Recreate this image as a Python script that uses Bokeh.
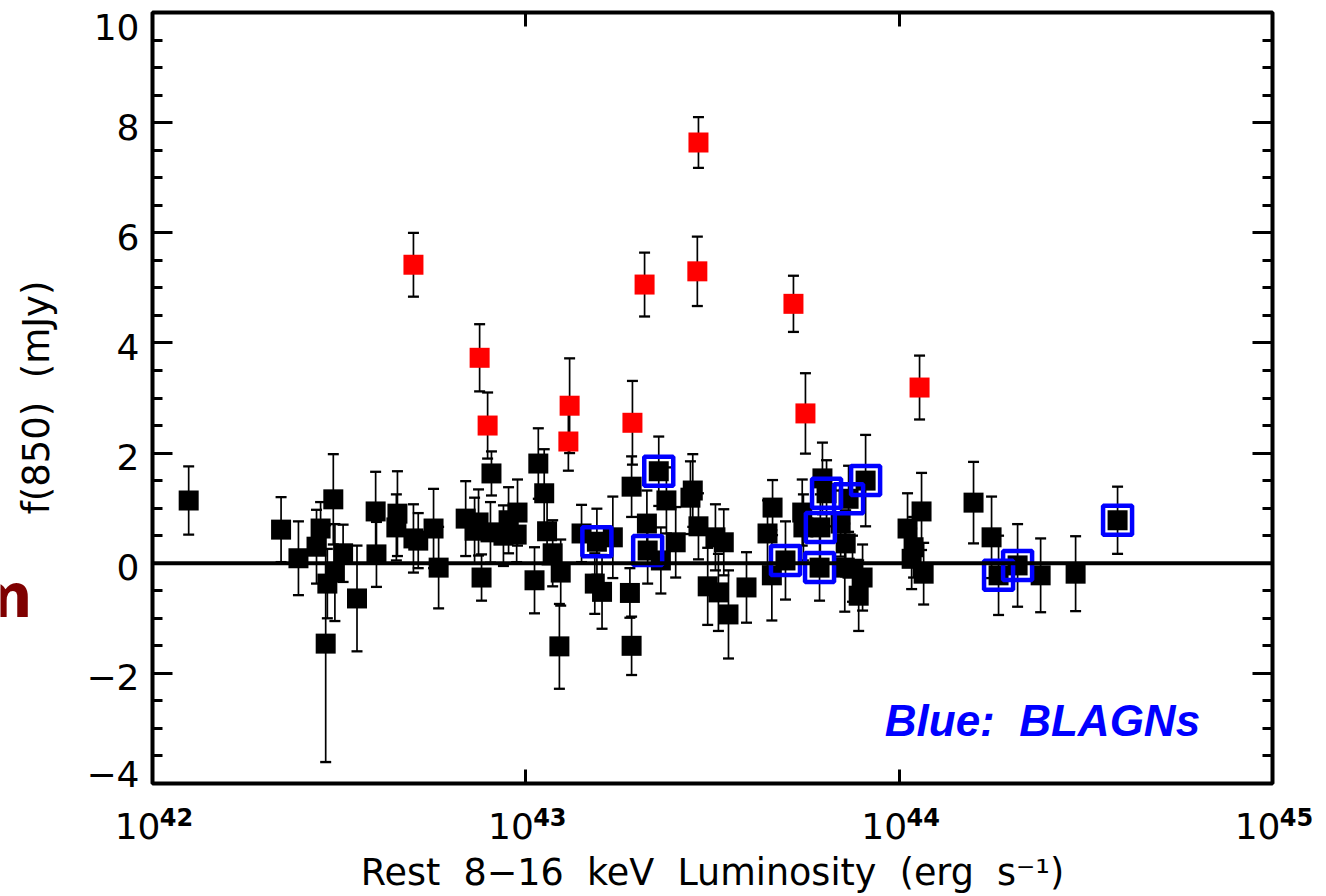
import math
from bokeh.plotting import figure
from bokeh.layouts import row
from bokeh.models import (FixedTicker, SingleIntervalTicker, LinearAxis, LogAxis,
                          Span, Label, ColumnDataSource, Range1d)
from bokeh.embed import file_html
from bokeh.resources import INLINE

# ---------------- data ----------------
# Rest 8-16 keV luminosity (erg/s), f(850) (mJy), 1-sigma error (mJy)
black_lum = [1.25e42, 2.21e42, 2.46e42, 2.75e42, 2.82e42, 2.94e42, 3.05e42, 3.08e42,
             2.91e42, 3.24e42, 3.53e42, 3.96e42, 3.98e42, 4.53e42, 4.50e42, 5.00e42,
             5.15e42, 5.66e42, 5.84e42, 6.90e42, 7.29e42, 7.47e42, 7.61e42, 8.09e42,
             8.04e42, 8.71e42, 8.99e42, 9.50e42, 9.45e42, 1.055e43, 1.08e43, 1.12e43,
             1.14e43, 1.18e43, 1.24e43, 1.23e43, 1.41e43, 1.55e43, 1.53e43, 1.60e43,
             1.71e43, 1.92e43, 1.90e43, 1.92e43, 2.11e43, 2.12e43, 2.27e43, 2.38e43,
             2.30e43, 2.52e43, 2.76e43, 2.80e43, 2.90e43, 3.07e43, 3.22e43, 3.28e43,
             3.39e43, 3.49e43, 3.90e43, 4.44e43, 4.58e43, 4.56e43, 4.96e43, 5.50e43,
             5.54e43, 6.23e43, 6.39e43, 6.15e43, 6.12e43, 7.32e43, 8.13e43, 6.97e43,
             7.19e43, 7.50e43, 7.98e43, 7.79e43, 7.15e43, 1.053e44, 1.148e44, 1.08e44,
             1.093e44, 1.163e44, 1.582e44, 1.768e44, 1.846e44, 2.076e44, 2.393e44,
             2.969e44, 3.846e44]
black_flux = [1.14, 0.61, 0.09, 0.30, 0.63, -0.37, 1.16, -0.17,
              -1.46, 0.18, -0.64, 0.94, 0.16, 0.90, 0.65, 0.45,
              0.41, 0.63, -0.08, 0.81, 0.59, 0.74, -0.26, 1.63,
              0.56, 0.50, 0.78, 0.92, 0.52, -0.31, 1.81, 1.27,
              0.58, 0.18, -0.17, -1.51, 0.54, 0.39, -0.37, -0.52,
              0.47, 1.39, -0.54, -1.50, 0.72, 0.23, 1.67, 1.14,
              0.05, 0.38, 1.19, 1.32, 0.67, -0.42, 0.47, -0.53,
              0.38, -0.93, -0.44, 0.54, 1.01, -0.22, 0.05, 0.92,
              0.65, 1.54, 1.27, 0.65, -0.08, 1.17, 1.50, 0.72,
              0.36, -0.10, -0.26, -0.59, -0.08, 0.63, 0.94, 0.08,
              0.29, -0.19, 1.10, 0.47, -0.22, -0.04, -0.22,
              -0.19, 0.78]
black_err = [0.62, 0.59, 0.67, 0.67, 0.48, 0.63, 0.82, 0.88,
             2.15, 0.52, 0.96, 0.72, 0.59, 0.77, 0.60, 0.62,
             0.50, 0.72, 0.74, 0.68, 0.60, 0.60, 0.42, 0.40,
             0.55, 0.55, 0.60, 0.60, 0.50, 0.60, 0.64, 0.80,
             0.60, 0.60, 0.60, 0.77, 0.52, 0.60, 0.55, 0.67,
             0.74, 0.55, 0.45, 0.53, 0.60, 0.60, 0.63, 0.60,
             0.60, 0.64, 0.66, 0.66, 0.60, 0.70, 0.60, 0.70,
             0.60, 0.80, 0.64, 0.60, 0.50, 0.82, 0.71, 0.60,
             0.60, 0.65, 0.60, 0.60, 0.60, 0.60, 0.83, 0.60,
             0.60, 0.60, 0.60, 0.64, 0.80, 0.64, 0.70, 0.55,
             0.55, 0.56, 0.74, 0.74, 0.72, 0.75, 0.67,
             0.68, 0.61]

red_lum = [5.00e42, 7.52e42, 7.90e42, 1.31e43, 1.30e43, 1.93e43, 2.08e43,
           2.90e43, 2.88e43, 5.21e43, 5.61e43, 1.134e44]
red_flux = [5.42, 3.73, 2.50, 2.86, 2.21, 2.55, 5.06, 7.64, 5.30, 4.71, 2.72, 3.19]
red_err = [0.58, 0.61, 0.60, 0.86, 0.53, 0.76, 0.58, 0.46, 0.63, 0.51, 0.73, 0.58]

# broad-line AGN (open blue squares)
blagn_lum = [1.55e43, 2.12e43, 2.27e43, 4.96e43, 6.12e43, 6.15e43, 6.39e43,
             7.32e43, 8.13e43, 1.846e44, 2.076e44, 3.846e44]
blagn_flux = [0.39, 0.23, 1.67, 0.05, -0.08, 0.65, 1.27, 1.17, 1.50, -0.22, -0.04, 0.78]

x_ticks = [1e42, 1e43, 1e44, 1e45]
x_tick_exponents = ["42", "43", "44", "45"]
y_ticks = [-4, -2, 0, 2, 4, 6, 8, 10]
y_tick_labels = ["\u22124", "\u22122", "0", "2", "4", "6", "8", "10"]

x_title = "Rest \u00a08\u221216 \u00a0keV \u00a0Luminosity \u00a0(erg \u00a0s\u207b\u00b9)"
y_title = "f(850) \u00a0(mJy)"
note = "Blue: \u00a0BLAGNs"
edge_fragment = "m"   # cut-off text of a neighbouring panel at the left edge

FONT = "DejaVu Sans"
TOP, BOTTOM = 12, 113          # border sizes shared by both figures
SIDE_W = 80                    # left strip holding the y title

# ---------------- main figure ----------------
p = figure(width=1326 - SIDE_W, height=896, x_axis_type="log",
           x_range=(0.99999e42, 1.00001e45), y_range=(-4, 10),
           output_backend="svg", toolbar_location=None,
           min_border_left=152 - SIDE_W, min_border_right=54,
           min_border_top=TOP, min_border_bottom=BOTTOM)
p.xgrid.visible = False
p.ygrid.visible = False
p.outline_line_color = "black"
p.outline_line_width = 4
p.background_fill_color = "white"
p.border_fill_color = "white"


def ticks_only(ax, major_in, minor_in):
    ax.axis_line_color = None
    ax.major_tick_in = major_in
    ax.major_tick_out = 0
    ax.minor_tick_in = minor_in
    ax.minor_tick_out = 0
    ax.major_tick_line_width = 3
    ax.minor_tick_line_width = 3
    ax.major_tick_line_color = "black"
    ax.minor_tick_line_color = "black"
    ax.major_label_text_font_size = "0px"
    ax.major_label_text_color = None
    ax.major_label_standoff = 0
    ax.axis_label = None


def labels_only(ax, size, standoff, style="normal"):
    ax.axis_line_color = None
    ax.major_tick_in = 0
    ax.major_tick_out = 0
    ax.minor_tick_in = 0
    ax.minor_tick_out = 0
    ax.major_tick_line_color = None
    ax.minor_tick_line_color = None
    ax.major_label_text_font = FONT
    ax.major_label_text_font_size = size
    ax.major_label_text_font_style = style
    ax.major_label_text_color = "black"
    ax.major_label_standoff = standoff


# bottom: inward decade ticks + bold exponents (nearest the frame)
xa = p.xaxis[0]
ticks_only(xa, 14, 0)
xa.ticker = FixedTicker(ticks=x_ticks, minor_ticks=[])
labels_only(xa, "24px", 20, "bold")
xa.major_tick_in = 14
xa.major_tick_line_color = "black"
xa.major_tick_line_width = 3
xa.major_label_overrides = {t: "\u2003\u2003" + e for t, e in zip(x_ticks, x_tick_exponents)}

# bottom: mantissa "10" + axis title
xb = LogAxis(ticker=FixedTicker(ticks=x_ticks, minor_ticks=[]))
labels_only(xb, "36px", -29)
xb.major_label_overrides = {t: "10\u2002\u2004" for t in x_ticks}
xb.axis_label = x_title
xb.axis_label_text_font = FONT
xb.axis_label_text_font_size = "36.5px"
xb.axis_label_text_font_style = "normal"
xb.axis_label_text_color = "black"
xb.axis_label_standoff = 1
p.add_layout(xb, "below")

# left: inward ticks
ya = p.yaxis[0]
ya.ticker = SingleIntervalTicker(interval=2, num_minor_ticks=4)
ticks_only(ya, 20, 10)

# left: tick labels (nudged a few pixels like the reference)
px_per_unit = (896 - TOP - BOTTOM) / 14.0
label_shift_px = {10: 14, -4: -10}
y_label_pos = [v - label_shift_px.get(v, 4) / px_per_unit for v in y_ticks]
yb = LinearAxis(ticker=FixedTicker(ticks=y_label_pos, minor_ticks=[]))
labels_only(yb, "36px", 13)
yb.major_label_overrides = {pos: s for pos, s in zip(y_label_pos, y_tick_labels)}
p.add_layout(yb, "left")

# top / right: inward ticks only
top = LogAxis(ticker=FixedTicker(ticks=x_ticks, minor_ticks=[]))
ticks_only(top, 14, 0)
p.add_layout(top, "above")
right = LinearAxis(ticker=SingleIntervalTicker(interval=2, num_minor_ticks=4))
ticks_only(right, 20, 10)
p.add_layout(right, "right")

# zero line
p.add_layout(Span(location=0, dimension="width", line_color="black", line_width=4))

# ---------------- error bars ----------------
all_lum = black_lum + red_lum
all_flux = black_flux + red_flux
all_err = black_err + red_err
eb = ColumnDataSource(dict(x=all_lum,
                           lo=[f - e for f, e in zip(all_flux, all_err)],
                           hi=[f + e for f, e in zip(all_flux, all_err)]))
p.segment(x0="x", y0="lo", x1="x", y1="hi", source=eb, line_color="black", line_width=1.7)
p.scatter(x="x", y="lo", source=eb, marker="dash", size=11, line_color="black", line_width=2.3)
p.scatter(x="x", y="hi", source=eb, marker="dash", size=11, line_color="black", line_width=2.3)

# ---------------- points ----------------
p.scatter(black_lum, black_flux, marker="square", size=20,
          fill_color="black", line_color=None)
p.scatter(red_lum, red_flux, marker="square", size=20,
          fill_color="#ff0000", line_color=None)
p.scatter(blagn_lum, blagn_flux, marker="square", size=29,
          fill_color=None, line_color="#0000ff", line_width=4.5)

p.add_layout(Label(x=9.15e43, y=-2.853, text=note,
                   text_align="left", text_baseline="middle",
                   text_font="Liberation Sans", text_font_size="44px",
                   text_font_style="bold italic", text_color="#0000ff"))

# ---------------- left strip: y title + fragment, same vertical scale ----------------
side = figure(width=SIDE_W, height=896, x_range=Range1d(0, SIDE_W), y_range=p.y_range,
              output_backend="svg", toolbar_location=None,
              x_axis_location=None, y_axis_location=None,
              min_border_left=0, min_border_right=0,
              min_border_top=TOP, min_border_bottom=BOTTOM)
side.xgrid.visible = False
side.ygrid.visible = False
side.outline_line_color = None
side.background_fill_color = "white"
side.border_fill_color = "white"
side.add_layout(Label(x=36, y=3.01, text=y_title, angle=math.pi / 2,
                      text_align="center", text_baseline="middle",
                      text_font=FONT, text_font_size="37px", text_color="black"))
side.add_layout(Label(x=32, y=-0.6, text=edge_fragment,
                      text_align="right", text_baseline="middle",
                      text_font=FONT, text_font_size="60px", text_font_style="bold",
                      text_color="#7f0000"))

layout = row(side, p, spacing=0)
open("out.html", "w").write(file_html(layout, INLINE))
